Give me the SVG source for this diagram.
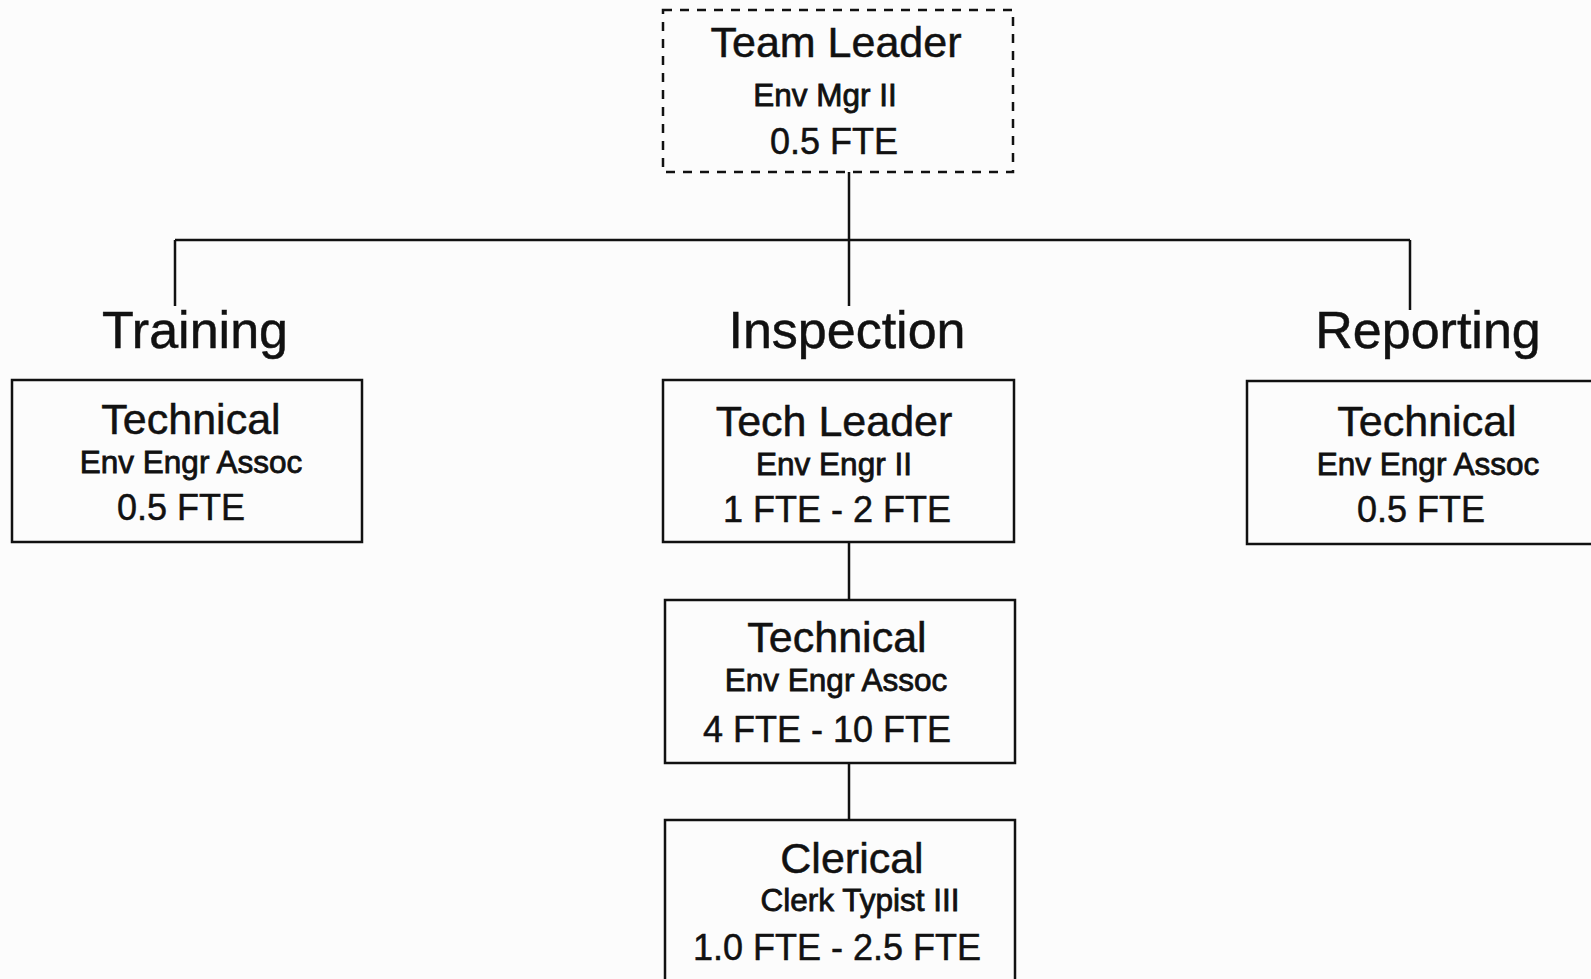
<svg xmlns="http://www.w3.org/2000/svg" width="1591" height="979" viewBox="0 0 1591 979">
<style>
text{font-family:"Liberation Sans",Arial,Helvetica,sans-serif;fill:#111;stroke:#111;stroke-width:0.5;text-anchor:middle}
.box{fill:none;stroke:#111;stroke-width:2.5}
.dash{fill:none;stroke:#111;stroke-width:2.5;stroke-dasharray:9 8}
.ln{fill:none;stroke:#111;stroke-width:2.5}
.h{font-size:52px}
.t{font-size:43px}
.s{font-size:31.5px;stroke-width:0.8}
.f{font-size:36px}
</style>
<rect width="1591" height="979" fill="#fcfcfc"/>
<g id="connectors">
<path class="ln" d="M849 172V240M175 240H1410M175 240V306M849 240V306M1410 240V310"/>
<path class="ln" d="M849 542V600M849 763V820"/>
</g>
<g id="team-leader">
<rect class="dash" x="663" y="10" width="350" height="162"/>
<text class="t" x="836" y="57">Team Leader</text>
<text class="s" x="825" y="106">Env Mgr II</text>
<text class="f" x="834" y="154">0.5 FTE</text>
</g>
<g id="training">
<text class="h" x="195" y="348">Training</text>
<rect class="box" x="12" y="380" width="350" height="162"/>
<text class="t" x="191" y="434">Technical</text>
<text class="s" x="191" y="473">Env Engr Assoc</text>
<text class="f" x="181" y="520">0.5 FTE</text>
</g>
<g id="inspection">
<text class="h" x="847" y="348">Inspection</text>
</g>
<g id="tech-leader">
<rect class="box" x="663" y="380" width="351" height="162"/>
<text class="t" x="834" y="436">Tech Leader</text>
<text class="s" x="834" y="475">Env Engr II</text>
<text class="f" x="837" y="522">1 FTE - 2 FTE</text>
</g>
<g id="technical-inspection">
<rect class="box" x="665" y="600" width="350" height="163"/>
<text class="t" x="837" y="652">Technical</text>
<text class="s" x="836" y="691">Env Engr Assoc</text>
<text class="f" x="827" y="742">4 FTE - 10 FTE</text>
</g>
<g id="clerical">
<rect class="box" x="665" y="820" width="350" height="180"/>
<text class="t" x="852" y="873">Clerical</text>
<text class="s" x="860" y="911">Clerk Typist III</text>
<text class="f" x="837" y="960">1.0 FTE - 2.5 FTE</text>
</g>
<g id="reporting">
<text class="h" x="1428" y="348">Reporting</text>
<rect class="box" x="1247" y="381" width="360" height="163"/>
<text class="t" x="1427" y="436">Technical</text>
<text class="s" x="1428" y="475">Env Engr Assoc</text>
<text class="f" x="1421" y="522">0.5 FTE</text>
</g>
</svg>
